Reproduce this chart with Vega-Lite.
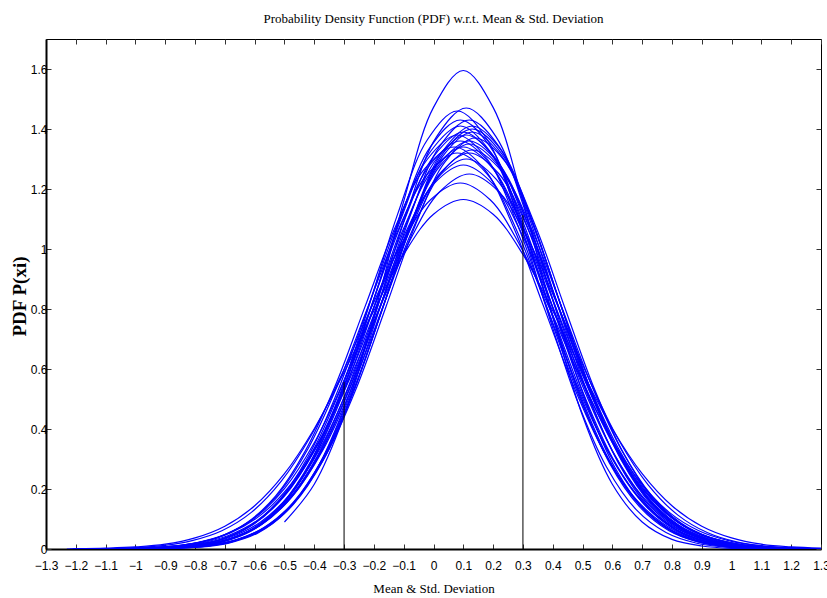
{
 "$schema": "https://vega.github.io/schema/vega-lite/v6.json",
 "autosize": "none",
 "width": 775,
 "height": 510,
 "padding": {"left": 46, "top": 39, "right": 6, "bottom": 49},
 "background": "white",
 "title": {"text": "Probability Density Function (PDF) w.r.t. Mean & Std. Deviation", "font": "Liberation Serif", "fontSize": 13, "fontWeight": "normal", "color": "black", "frame": "group", "anchor": "middle", "baseline": "alphabetic", "offset": 3},
 "config": {
  "view": {"stroke": "black", "strokeWidth": 1},
  "axis": {"grid": false, "labelFont": "Liberation Sans Narrow, Liberation Sans", "labelFontSize": 12, "labelColor": "black", "tickColor": "#333333", "tickSize": -5, "tickWidth": 1, "domainColor": "black", "titleColor": "black"}
 },
 "datasets": {
  "curves": [
   {"c":1,"x":-0.5,"y":0.090},{"c":1,"x":-0.4,"y":0.216},{"c":1,"x":-0.3,"y":0.444},{"c":1,"x":-0.2,"y":0.777},{"c":1,"x":-0.1,"y":1.159},{"c":1,"x":0,"y":1.472},{"c":1,"x":0.1,"y":1.595},{"c":1,"x":0.2,"y":1.472},{"c":1,"x":0.3,"y":1.159},{"c":1,"x":0.4,"y":0.777},{"c":1,"x":0.5,"y":0.444},{"c":1,"x":0.6,"y":0.216},{"c":1,"x":0.7,"y":0.090},{"c":1,"x":0.8,"y":0.032},{"c":1,"x":0.9,"y":0.010},{"c":1,"x":1.0,"y":0.002},{"c":1,"x":1.1,"y":0.001},{"c":1,"x":1.2,"y":0},{"c":1,"x":1.3,"y":0},
   {"c":2,"x":-1.19,"y":0},{"c":2,"x":-1.09,"y":0},{"c":2,"x":-0.99,"y":0},{"c":2,"x":-0.89,"y":0.002},{"c":2,"x":-0.79,"y":0.006},{"c":2,"x":-0.69,"y":0.019},{"c":2,"x":-0.59,"y":0.053},{"c":2,"x":-0.49,"y":0.128},{"c":2,"x":-0.39,"y":0.269},{"c":2,"x":-0.29,"y":0.496},{"c":2,"x":-0.19,"y":0.798},{"c":2,"x":-0.09,"y":1.120},{"c":2,"x":0.01,"y":1.374},{"c":2,"x":0.11,"y":1.47},{"c":2,"x":0.21,"y":1.374},{"c":2,"x":0.31,"y":1.120},{"c":2,"x":0.41,"y":0.798},{"c":2,"x":0.51,"y":0.496},{"c":2,"x":0.61,"y":0.269},{"c":2,"x":0.71,"y":0.128},{"c":2,"x":0.81,"y":0.053},{"c":2,"x":0.91,"y":0.019},{"c":2,"x":1.01,"y":0.006},{"c":2,"x":1.11,"y":0.002},{"c":2,"x":1.21,"y":0},{"c":2,"x":1.31,"y":0},
   {"c":3,"x":-0.52,"y":0.131},{"c":3,"x":-0.42,"y":0.274},{"c":3,"x":-0.32,"y":0.500},{"c":3,"x":-0.22,"y":0.799},{"c":3,"x":-0.12,"y":1.117},{"c":3,"x":-0.02,"y":1.365},{"c":3,"x":0.08,"y":1.46},{"c":3,"x":0.18,"y":1.365},{"c":3,"x":0.28,"y":1.117},{"c":3,"x":0.38,"y":0.799},{"c":3,"x":0.48,"y":0.500},{"c":3,"x":0.58,"y":0.274},{"c":3,"x":0.68,"y":0.131},{"c":3,"x":0.78,"y":0.055},{"c":3,"x":0.88,"y":0.020},{"c":3,"x":0.98,"y":0.006},{"c":3,"x":1.08,"y":0.002},{"c":3,"x":1.18,"y":0},{"c":3,"x":1.28,"y":0},{"c":3,"x":1.38,"y":0},
   {"c":4,"x":-1.18,"y":0},{"c":4,"x":-1.08,"y":0},{"c":4,"x":-0.98,"y":0.001},{"c":4,"x":-0.88,"y":0.002},{"c":4,"x":-0.78,"y":0.008},{"c":4,"x":-0.68,"y":0.023},{"c":4,"x":-0.58,"y":0.061},{"c":4,"x":-0.48,"y":0.142},{"c":4,"x":-0.38,"y":0.287},{"c":4,"x":-0.28,"y":0.512},{"c":4,"x":-0.18,"y":0.802},{"c":4,"x":-0.08,"y":1.106},{"c":4,"x":0.02,"y":1.341},{"c":4,"x":0.12,"y":1.43},{"c":4,"x":0.22,"y":1.341},{"c":4,"x":0.32,"y":1.106},{"c":4,"x":0.42,"y":0.802},{"c":4,"x":0.52,"y":0.512},{"c":4,"x":0.62,"y":0.287},{"c":4,"x":0.72,"y":0.142},{"c":4,"x":0.82,"y":0.061},{"c":4,"x":0.92,"y":0.023},{"c":4,"x":1.02,"y":0.008},{"c":4,"x":1.12,"y":0.002},{"c":4,"x":1.22,"y":0.001},{"c":4,"x":1.32,"y":0},
   {"c":5,"x":-1.21,"y":0},{"c":5,"x":-1.11,"y":0},{"c":5,"x":-1.01,"y":0.001},{"c":5,"x":-0.91,"y":0.003},{"c":5,"x":-0.81,"y":0.009},{"c":5,"x":-0.71,"y":0.026},{"c":5,"x":-0.61,"y":0.066},{"c":5,"x":-0.51,"y":0.149},{"c":5,"x":-0.41,"y":0.296},{"c":5,"x":-0.31,"y":0.519},{"c":5,"x":-0.21,"y":0.804},{"c":5,"x":-0.11,"y":1.098},{"c":5,"x":-0.01,"y":1.325},{"c":5,"x":0.09,"y":1.41},{"c":5,"x":0.19,"y":1.325},{"c":5,"x":0.29,"y":1.098},{"c":5,"x":0.39,"y":0.804},{"c":5,"x":0.49,"y":0.519},{"c":5,"x":0.59,"y":0.296},{"c":5,"x":0.69,"y":0.149},{"c":5,"x":0.79,"y":0.066},{"c":5,"x":0.89,"y":0.026},{"c":5,"x":0.99,"y":0.009},{"c":5,"x":1.09,"y":0.003},{"c":5,"x":1.19,"y":0.001},{"c":5,"x":1.29,"y":0},{"c":5,"x":1.39,"y":0},
   {"c":6,"x":-0.97,"y":0.001},{"c":6,"x":-0.87,"y":0.003},{"c":6,"x":-0.77,"y":0.010},{"c":6,"x":-0.67,"y":0.027},{"c":6,"x":-0.57,"y":0.069},{"c":6,"x":-0.47,"y":0.153},{"c":6,"x":-0.37,"y":0.300},{"c":6,"x":-0.27,"y":0.523},{"c":6,"x":-0.17,"y":0.804},{"c":6,"x":-0.07,"y":1.094},{"c":6,"x":0.03,"y":1.316},{"c":6,"x":0.13,"y":1.40},{"c":6,"x":0.23,"y":1.316},{"c":6,"x":0.33,"y":1.094},{"c":6,"x":0.43,"y":0.804},{"c":6,"x":0.53,"y":0.523},{"c":6,"x":0.63,"y":0.300},{"c":6,"x":0.73,"y":0.153},{"c":6,"x":0.83,"y":0.069},{"c":6,"x":0.93,"y":0.027},{"c":6,"x":1.03,"y":0.010},{"c":6,"x":1.13,"y":0.003},{"c":6,"x":1.23,"y":0.001},{"c":6,"x":1.33,"y":0},
   {"c":7,"x":-1.2,"y":0},{"c":7,"x":-1.1,"y":0},{"c":7,"x":-1.0,"y":0.001},{"c":7,"x":-0.9,"y":0.003},{"c":7,"x":-0.8,"y":0.010},{"c":7,"x":-0.7,"y":0.029},{"c":7,"x":-0.6,"y":0.071},{"c":7,"x":-0.5,"y":0.156},{"c":7,"x":-0.4,"y":0.305},{"c":7,"x":-0.3,"y":0.526},{"c":7,"x":-0.2,"y":0.805},{"c":7,"x":-0.1,"y":1.090},{"c":7,"x":0,"y":1.308},{"c":7,"x":0.1,"y":1.39},{"c":7,"x":0.2,"y":1.308},{"c":7,"x":0.3,"y":1.090},{"c":7,"x":0.4,"y":0.805},{"c":7,"x":0.5,"y":0.526},{"c":7,"x":0.6,"y":0.305},{"c":7,"x":0.7,"y":0.156},{"c":7,"x":0.8,"y":0.071},{"c":7,"x":0.9,"y":0.029},{"c":7,"x":1.0,"y":0.010},{"c":7,"x":1.1,"y":0.003},{"c":7,"x":1.2,"y":0.001},{"c":7,"x":1.3,"y":0},
   {"c":8,"x":-1.19,"y":0},{"c":8,"x":-1.09,"y":0},{"c":8,"x":-0.99,"y":0.001},{"c":8,"x":-0.89,"y":0.003},{"c":8,"x":-0.79,"y":0.011},{"c":8,"x":-0.69,"y":0.030},{"c":8,"x":-0.59,"y":0.074},{"c":8,"x":-0.49,"y":0.160},{"c":8,"x":-0.39,"y":0.309},{"c":8,"x":-0.29,"y":0.530},{"c":8,"x":-0.19,"y":0.805},{"c":8,"x":-0.09,"y":1.086},{"c":8,"x":0.01,"y":1.300},{"c":8,"x":0.11,"y":1.38},{"c":8,"x":0.21,"y":1.300},{"c":8,"x":0.31,"y":1.086},{"c":8,"x":0.41,"y":0.805},{"c":8,"x":0.51,"y":0.530},{"c":8,"x":0.61,"y":0.309},{"c":8,"x":0.71,"y":0.160},{"c":8,"x":0.81,"y":0.074},{"c":8,"x":0.91,"y":0.030},{"c":8,"x":1.01,"y":0.011},{"c":8,"x":1.11,"y":0.003},{"c":8,"x":1.21,"y":0.001},{"c":8,"x":1.31,"y":0},
   {"c":9,"x":-0.96,"y":0.001},{"c":9,"x":-0.86,"y":0.004},{"c":9,"x":-0.76,"y":0.012},{"c":9,"x":-0.66,"y":0.031},{"c":9,"x":-0.56,"y":0.076},{"c":9,"x":-0.46,"y":0.164},{"c":9,"x":-0.36,"y":0.314},{"c":9,"x":-0.26,"y":0.533},{"c":9,"x":-0.16,"y":0.806},{"c":9,"x":-0.06,"y":1.082},{"c":9,"x":0.04,"y":1.292},{"c":9,"x":0.14,"y":1.37},{"c":9,"x":0.24,"y":1.292},{"c":9,"x":0.34,"y":1.082},{"c":9,"x":0.44,"y":0.806},{"c":9,"x":0.54,"y":0.533},{"c":9,"x":0.64,"y":0.314},{"c":9,"x":0.74,"y":0.164},{"c":9,"x":0.84,"y":0.076},{"c":9,"x":0.94,"y":0.031},{"c":9,"x":1.04,"y":0.012},{"c":9,"x":1.14,"y":0.004},{"c":9,"x":1.24,"y":0.001},{"c":9,"x":1.34,"y":0},
   {"c":10,"x":-1.21,"y":0},{"c":10,"x":-1.11,"y":0},{"c":10,"x":-1.01,"y":0.001},{"c":10,"x":-0.91,"y":0.004},{"c":10,"x":-0.81,"y":0.012},{"c":10,"x":-0.71,"y":0.033},{"c":10,"x":-0.61,"y":0.079},{"c":10,"x":-0.51,"y":0.168},{"c":10,"x":-0.41,"y":0.318},{"c":10,"x":-0.31,"y":0.537},{"c":10,"x":-0.21,"y":0.806},{"c":10,"x":-0.11,"y":1.078},{"c":10,"x":-0.01,"y":1.283},{"c":10,"x":0.09,"y":1.36},{"c":10,"x":0.19,"y":1.283},{"c":10,"x":0.29,"y":1.078},{"c":10,"x":0.39,"y":0.806},{"c":10,"x":0.49,"y":0.537},{"c":10,"x":0.59,"y":0.318},{"c":10,"x":0.69,"y":0.168},{"c":10,"x":0.79,"y":0.079},{"c":10,"x":0.89,"y":0.033},{"c":10,"x":0.99,"y":0.012},{"c":10,"x":1.09,"y":0.004},{"c":10,"x":1.19,"y":0.001},{"c":10,"x":1.29,"y":0},{"c":10,"x":1.39,"y":0},
   {"c":11,"x":-1.18,"y":0},{"c":11,"x":-1.08,"y":0},{"c":11,"x":-0.98,"y":0.001},{"c":11,"x":-0.88,"y":0.004},{"c":11,"x":-0.78,"y":0.013},{"c":11,"x":-0.68,"y":0.035},{"c":11,"x":-0.58,"y":0.082},{"c":11,"x":-0.48,"y":0.172},{"c":11,"x":-0.38,"y":0.323},{"c":11,"x":-0.28,"y":0.540},{"c":11,"x":-0.18,"y":0.806},{"c":11,"x":-0.08,"y":1.074},{"c":11,"x":0.02,"y":1.275},{"c":11,"x":0.12,"y":1.35},{"c":11,"x":0.22,"y":1.275},{"c":11,"x":0.32,"y":1.074},{"c":11,"x":0.42,"y":0.806},{"c":11,"x":0.52,"y":0.540},{"c":11,"x":0.62,"y":0.323},{"c":11,"x":0.72,"y":0.172},{"c":11,"x":0.82,"y":0.082},{"c":11,"x":0.92,"y":0.035},{"c":11,"x":1.02,"y":0.013},{"c":11,"x":1.12,"y":0.004},{"c":11,"x":1.22,"y":0.001},{"c":11,"x":1.32,"y":0},
   {"c":12,"x":-0.9,"y":0.005},{"c":12,"x":-0.8,"y":0.014},{"c":12,"x":-0.7,"y":0.036},{"c":12,"x":-0.6,"y":0.085},{"c":12,"x":-0.5,"y":0.176},{"c":12,"x":-0.4,"y":0.327},{"c":12,"x":-0.3,"y":0.543},{"c":12,"x":-0.2,"y":0.807},{"c":12,"x":-0.1,"y":1.069},{"c":12,"x":0,"y":1.267},{"c":12,"x":0.1,"y":1.34},{"c":12,"x":0.2,"y":1.267},{"c":12,"x":0.3,"y":1.069},{"c":12,"x":0.4,"y":0.807},{"c":12,"x":0.5,"y":0.543},{"c":12,"x":0.6,"y":0.327},{"c":12,"x":0.7,"y":0.176},{"c":12,"x":0.8,"y":0.085},{"c":12,"x":0.9,"y":0.036},{"c":12,"x":1.0,"y":0.014},{"c":12,"x":1.1,"y":0.005},{"c":12,"x":1.2,"y":0.001},{"c":12,"x":1.3,"y":0},
   {"c":13,"x":-1.17,"y":0},{"c":13,"x":-1.07,"y":0},{"c":13,"x":-0.97,"y":0.002},{"c":13,"x":-0.87,"y":0.005},{"c":13,"x":-0.77,"y":0.015},{"c":13,"x":-0.67,"y":0.038},{"c":13,"x":-0.57,"y":0.087},{"c":13,"x":-0.47,"y":0.180},{"c":13,"x":-0.37,"y":0.332},{"c":13,"x":-0.27,"y":0.547},{"c":13,"x":-0.17,"y":0.807},{"c":13,"x":-0.07,"y":1.065},{"c":13,"x":0.03,"y":1.258},{"c":13,"x":0.13,"y":1.33},{"c":13,"x":0.23,"y":1.258},{"c":13,"x":0.33,"y":1.065},{"c":13,"x":0.43,"y":0.807},{"c":13,"x":0.53,"y":0.547},{"c":13,"x":0.63,"y":0.332},{"c":13,"x":0.73,"y":0.180},{"c":13,"x":0.83,"y":0.087},{"c":13,"x":0.93,"y":0.038},{"c":13,"x":1.03,"y":0.015},{"c":13,"x":1.13,"y":0.005},{"c":13,"x":1.23,"y":0.002},{"c":13,"x":1.33,"y":0},
   {"c":14,"x":-1.22,"y":0},{"c":14,"x":-1.12,"y":0},{"c":14,"x":-1.02,"y":0.002},{"c":14,"x":-0.92,"y":0.006},{"c":14,"x":-0.82,"y":0.016},{"c":14,"x":-0.72,"y":0.040},{"c":14,"x":-0.62,"y":0.090},{"c":14,"x":-0.52,"y":0.184},{"c":14,"x":-0.42,"y":0.336},{"c":14,"x":-0.32,"y":0.550},{"c":14,"x":-0.22,"y":0.807},{"c":14,"x":-0.12,"y":1.060},{"c":14,"x":-0.02,"y":1.250},{"c":14,"x":0.08,"y":1.32},{"c":14,"x":0.18,"y":1.250},{"c":14,"x":0.28,"y":1.060},{"c":14,"x":0.38,"y":0.807},{"c":14,"x":0.48,"y":0.550},{"c":14,"x":0.58,"y":0.336},{"c":14,"x":0.68,"y":0.184},{"c":14,"x":0.78,"y":0.090},{"c":14,"x":0.88,"y":0.040},{"c":14,"x":0.98,"y":0.016},{"c":14,"x":1.08,"y":0.006},{"c":14,"x":1.18,"y":0.002},{"c":14,"x":1.28,"y":0},{"c":14,"x":1.38,"y":0},
   {"c":15,"x":-1.19,"y":0},{"c":15,"x":-1.09,"y":0.001},{"c":15,"x":-0.99,"y":0.002},{"c":15,"x":-0.89,"y":0.006},{"c":15,"x":-0.79,"y":0.018},{"c":15,"x":-0.69,"y":0.044},{"c":15,"x":-0.59,"y":0.096},{"c":15,"x":-0.49,"y":0.192},{"c":15,"x":-0.39,"y":0.345},{"c":15,"x":-0.29,"y":0.556},{"c":15,"x":-0.19,"y":0.806},{"c":15,"x":-0.09,"y":1.051},{"c":15,"x":0.01,"y":1.233},{"c":15,"x":0.11,"y":1.30},{"c":15,"x":0.21,"y":1.233},{"c":15,"x":0.31,"y":1.051},{"c":15,"x":0.41,"y":0.806},{"c":15,"x":0.51,"y":0.556},{"c":15,"x":0.61,"y":0.345},{"c":15,"x":0.71,"y":0.192},{"c":15,"x":0.81,"y":0.096},{"c":15,"x":0.91,"y":0.044},{"c":15,"x":1.01,"y":0.018},{"c":15,"x":1.11,"y":0.006},{"c":15,"x":1.21,"y":0.002},{"c":15,"x":1.31,"y":0.001},
   {"c":16,"x":-1.2,"y":0},{"c":16,"x":-1.1,"y":0.001},{"c":16,"x":-1.0,"y":0.003},{"c":16,"x":-0.9,"y":0.007},{"c":16,"x":-0.8,"y":0.020},{"c":16,"x":-0.7,"y":0.048},{"c":16,"x":-0.6,"y":0.103},{"c":16,"x":-0.5,"y":0.201},{"c":16,"x":-0.4,"y":0.354},{"c":16,"x":-0.3,"y":0.562},{"c":16,"x":-0.2,"y":0.805},{"c":16,"x":-0.1,"y":1.042},{"c":16,"x":0,"y":1.216},{"c":16,"x":0.1,"y":1.28},{"c":16,"x":0.2,"y":1.216},{"c":16,"x":0.3,"y":1.042},{"c":16,"x":0.4,"y":0.805},{"c":16,"x":0.5,"y":0.562},{"c":16,"x":0.6,"y":0.354},{"c":16,"x":0.7,"y":0.201},{"c":16,"x":0.8,"y":0.103},{"c":16,"x":0.9,"y":0.048},{"c":16,"x":1.0,"y":0.020},{"c":16,"x":1.1,"y":0.007},{"c":16,"x":1.2,"y":0.003},{"c":16,"x":1.3,"y":0.001},
   {"c":17,"x":-1.18,"y":0},{"c":17,"x":-1.08,"y":0.001},{"c":17,"x":-0.98,"y":0.003},{"c":17,"x":-0.88,"y":0.009},{"c":17,"x":-0.78,"y":0.023},{"c":17,"x":-0.68,"y":0.054},{"c":17,"x":-0.58,"y":0.113},{"c":17,"x":-0.48,"y":0.214},{"c":17,"x":-0.38,"y":0.366},{"c":17,"x":-0.28,"y":0.570},{"c":17,"x":-0.18,"y":0.804},{"c":17,"x":-0.08,"y":1.027},{"c":17,"x":0.02,"y":1.190},{"c":17,"x":0.12,"y":1.25},{"c":17,"x":0.22,"y":1.190},{"c":17,"x":0.32,"y":1.027},{"c":17,"x":0.42,"y":0.804},{"c":17,"x":0.52,"y":0.570},{"c":17,"x":0.62,"y":0.366},{"c":17,"x":0.72,"y":0.214},{"c":17,"x":0.82,"y":0.113},{"c":17,"x":0.92,"y":0.054},{"c":17,"x":1.02,"y":0.023},{"c":17,"x":1.12,"y":0.009},{"c":17,"x":1.22,"y":0.003},{"c":17,"x":1.32,"y":0.001},
   {"c":18,"x":-1.21,"y":0},{"c":18,"x":-1.11,"y":0.001},{"c":18,"x":-1.01,"y":0.004},{"c":18,"x":-0.91,"y":0.011},{"c":18,"x":-0.81,"y":0.028},{"c":18,"x":-0.71,"y":0.061},{"c":18,"x":-0.61,"y":0.123},{"c":18,"x":-0.51,"y":0.227},{"c":18,"x":-0.41,"y":0.379},{"c":18,"x":-0.31,"y":0.577},{"c":18,"x":-0.21,"y":0.801},{"c":18,"x":-0.11,"y":1.012},{"c":18,"x":-0.01,"y":1.164},{"c":18,"x":0.09,"y":1.22},{"c":18,"x":0.19,"y":1.164},{"c":18,"x":0.29,"y":1.012},{"c":18,"x":0.39,"y":0.801},{"c":18,"x":0.49,"y":0.577},{"c":18,"x":0.59,"y":0.379},{"c":18,"x":0.69,"y":0.227},{"c":18,"x":0.79,"y":0.123},{"c":18,"x":0.89,"y":0.061},{"c":18,"x":0.99,"y":0.028},{"c":18,"x":1.09,"y":0.011},{"c":18,"x":1.19,"y":0.004},{"c":18,"x":1.29,"y":0.001},{"c":18,"x":1.39,"y":0},
   {"c":19,"x":-1.2,"y":0.001},{"c":19,"x":-1.1,"y":0.003},{"c":19,"x":-1.0,"y":0.007},{"c":19,"x":-0.9,"y":0.016},{"c":19,"x":-0.8,"y":0.037},{"c":19,"x":-0.7,"y":0.076},{"c":19,"x":-0.6,"y":0.144},{"c":19,"x":-0.5,"y":0.251},{"c":19,"x":-0.4,"y":0.401},{"c":19,"x":-0.3,"y":0.589},{"c":19,"x":-0.2,"y":0.794},{"c":19,"x":-0.1,"y":0.982},{"c":19,"x":0,"y":1.116},{"c":19,"x":0.1,"y":1.165},{"c":19,"x":0.2,"y":1.116},{"c":19,"x":0.3,"y":0.982},{"c":19,"x":0.4,"y":0.794},{"c":19,"x":0.5,"y":0.589},{"c":19,"x":0.6,"y":0.401},{"c":19,"x":0.7,"y":0.251},{"c":19,"x":0.8,"y":0.144},{"c":19,"x":0.9,"y":0.076},{"c":19,"x":1.0,"y":0.037},{"c":19,"x":1.1,"y":0.016},{"c":19,"x":1.2,"y":0.007},{"c":19,"x":1.3,"y":0.003},
   {"c":20,"x":-1.07,"y":0},{"c":20,"x":-0.97,"y":0.001},{"c":20,"x":-0.87,"y":0.003},{"c":20,"x":-0.77,"y":0.010},{"c":20,"x":-0.67,"y":0.029},{"c":20,"x":-0.57,"y":0.071},{"c":20,"x":-0.47,"y":0.156},{"c":20,"x":-0.37,"y":0.305},{"c":20,"x":-0.27,"y":0.526},{"c":20,"x":-0.17,"y":0.805},{"c":20,"x":-0.07,"y":1.090},{"c":20,"x":0.03,"y":1.308},{"c":20,"x":0.13,"y":1.39},{"c":20,"x":0.23,"y":1.308},{"c":20,"x":0.33,"y":1.090},{"c":20,"x":0.43,"y":0.805},{"c":20,"x":0.53,"y":0.526},{"c":20,"x":0.63,"y":0.305},{"c":20,"x":0.73,"y":0.156},{"c":20,"x":0.83,"y":0.071},{"c":20,"x":0.93,"y":0.029},{"c":20,"x":1.03,"y":0.010},{"c":20,"x":1.13,"y":0.003},{"c":20,"x":1.23,"y":0.001},{"c":20,"x":1.33,"y":0},
   {"c":21,"x":-1.18,"y":0},{"c":21,"x":-1.08,"y":0},{"c":21,"x":-0.98,"y":0.001},{"c":21,"x":-0.88,"y":0.004},{"c":21,"x":-0.78,"y":0.012},{"c":21,"x":-0.68,"y":0.033},{"c":21,"x":-0.58,"y":0.079},{"c":21,"x":-0.48,"y":0.168},{"c":21,"x":-0.38,"y":0.318},{"c":21,"x":-0.28,"y":0.537},{"c":21,"x":-0.18,"y":0.806},{"c":21,"x":-0.08,"y":1.078},{"c":21,"x":0.02,"y":1.283},{"c":21,"x":0.12,"y":1.36},{"c":21,"x":0.22,"y":1.283},{"c":21,"x":0.32,"y":1.078},{"c":21,"x":0.42,"y":0.806},{"c":21,"x":0.52,"y":0.537},{"c":21,"x":0.62,"y":0.318},{"c":21,"x":0.72,"y":0.168},{"c":21,"x":0.82,"y":0.079},{"c":21,"x":0.92,"y":0.033},{"c":21,"x":1.02,"y":0.012},{"c":21,"x":1.12,"y":0.004},{"c":21,"x":1.22,"y":0.001},{"c":21,"x":1.32,"y":0},
   {"c":22,"x":-1.17,"y":0},{"c":22,"x":-1.07,"y":0},{"c":22,"x":-0.97,"y":0.001},{"c":22,"x":-0.87,"y":0.003},{"c":22,"x":-0.77,"y":0.009},{"c":22,"x":-0.67,"y":0.026},{"c":22,"x":-0.57,"y":0.066},{"c":22,"x":-0.47,"y":0.149},{"c":22,"x":-0.37,"y":0.296},{"c":22,"x":-0.27,"y":0.519},{"c":22,"x":-0.17,"y":0.804},{"c":22,"x":-0.07,"y":1.098},{"c":22,"x":0.03,"y":1.325},{"c":22,"x":0.13,"y":1.41},{"c":22,"x":0.23,"y":1.325},{"c":22,"x":0.33,"y":1.098},{"c":22,"x":0.43,"y":0.804},{"c":22,"x":0.53,"y":0.519},{"c":22,"x":0.63,"y":0.296},{"c":22,"x":0.73,"y":0.149},{"c":22,"x":0.83,"y":0.066},{"c":22,"x":0.93,"y":0.026},{"c":22,"x":1.03,"y":0.009},{"c":22,"x":1.13,"y":0.003},{"c":22,"x":1.23,"y":0.001},{"c":22,"x":1.33,"y":0},
   {"c":23,"x":-1.23,"y":0},{"c":23,"x":-1.13,"y":0},{"c":23,"x":-1.03,"y":0.001},{"c":23,"x":-0.93,"y":0.005},{"c":23,"x":-0.83,"y":0.014},{"c":23,"x":-0.73,"y":0.036},{"c":23,"x":-0.63,"y":0.085},{"c":23,"x":-0.53,"y":0.176},{"c":23,"x":-0.43,"y":0.327},{"c":23,"x":-0.33,"y":0.543},{"c":23,"x":-0.23,"y":0.807},{"c":23,"x":-0.13,"y":1.069},{"c":23,"x":-0.03,"y":1.267},{"c":23,"x":0.07,"y":1.34},{"c":23,"x":0.17,"y":1.267},{"c":23,"x":0.27,"y":1.069},{"c":23,"x":0.37,"y":0.807},{"c":23,"x":0.47,"y":0.543},{"c":23,"x":0.57,"y":0.327},{"c":23,"x":0.67,"y":0.176},{"c":23,"x":0.77,"y":0.085},{"c":23,"x":0.87,"y":0.036},{"c":23,"x":0.97,"y":0.014},{"c":23,"x":1.07,"y":0.005},{"c":23,"x":1.17,"y":0.001},{"c":23,"x":1.27,"y":0},{"c":23,"x":1.37,"y":0},
   {"c":24,"x":-0.92,"y":0.003},{"c":24,"x":-0.82,"y":0.011},{"c":24,"x":-0.72,"y":0.030},{"c":24,"x":-0.62,"y":0.074},{"c":24,"x":-0.52,"y":0.160},{"c":24,"x":-0.42,"y":0.309},{"c":24,"x":-0.32,"y":0.530},{"c":24,"x":-0.22,"y":0.805},{"c":24,"x":-0.12,"y":1.086},{"c":24,"x":-0.02,"y":1.300},{"c":24,"x":0.08,"y":1.38},{"c":24,"x":0.18,"y":1.300},{"c":24,"x":0.28,"y":1.086},{"c":24,"x":0.38,"y":0.805},{"c":24,"x":0.48,"y":0.530},{"c":24,"x":0.58,"y":0.309},{"c":24,"x":0.68,"y":0.160},{"c":24,"x":0.78,"y":0.074},{"c":24,"x":0.88,"y":0.030},{"c":24,"x":0.98,"y":0.011},{"c":24,"x":1.08,"y":0.003},{"c":24,"x":1.18,"y":0.001},{"c":24,"x":1.28,"y":0},{"c":24,"x":1.38,"y":0},
   {"c":25,"x":-1.18,"y":0},{"c":25,"x":-1.08,"y":0},{"c":25,"x":-0.98,"y":0.002},{"c":25,"x":-0.88,"y":0.006},{"c":25,"x":-0.78,"y":0.016},{"c":25,"x":-0.68,"y":0.040},{"c":25,"x":-0.58,"y":0.090},{"c":25,"x":-0.48,"y":0.184},{"c":25,"x":-0.38,"y":0.336},{"c":25,"x":-0.28,"y":0.550},{"c":25,"x":-0.18,"y":0.807},{"c":25,"x":-0.08,"y":1.060},{"c":25,"x":0.02,"y":1.250},{"c":25,"x":0.12,"y":1.32},{"c":25,"x":0.22,"y":1.250},{"c":25,"x":0.32,"y":1.060},{"c":25,"x":0.42,"y":0.807},{"c":25,"x":0.52,"y":0.550},{"c":25,"x":0.62,"y":0.336},{"c":25,"x":0.72,"y":0.184},{"c":25,"x":0.82,"y":0.090},{"c":25,"x":0.92,"y":0.040},{"c":25,"x":1.02,"y":0.016},{"c":25,"x":1.12,"y":0.006},{"c":25,"x":1.22,"y":0.002},{"c":25,"x":1.32,"y":0},
   {"c":26,"x":-1.21,"y":0},{"c":26,"x":-1.11,"y":0},{"c":26,"x":-1.01,"y":0.001},{"c":26,"x":-0.91,"y":0.002},{"c":26,"x":-0.81,"y":0.008},{"c":26,"x":-0.71,"y":0.023},{"c":26,"x":-0.61,"y":0.061},{"c":26,"x":-0.51,"y":0.142},{"c":26,"x":-0.41,"y":0.287},{"c":26,"x":-0.31,"y":0.512},{"c":26,"x":-0.21,"y":0.802},{"c":26,"x":-0.11,"y":1.106},{"c":26,"x":-0.01,"y":1.341},{"c":26,"x":0.09,"y":1.43},{"c":26,"x":0.19,"y":1.341},{"c":26,"x":0.29,"y":1.106},{"c":26,"x":0.39,"y":0.802},{"c":26,"x":0.49,"y":0.512},{"c":26,"x":0.59,"y":0.287},{"c":26,"x":0.69,"y":0.142},{"c":26,"x":0.79,"y":0.061},{"c":26,"x":0.89,"y":0.023},{"c":26,"x":0.99,"y":0.008},{"c":26,"x":1.09,"y":0.002},{"c":26,"x":1.19,"y":0.001},{"c":26,"x":1.29,"y":0},{"c":26,"x":1.39,"y":0}
  ],
  "rules": [
   {"x": -0.3, "y": 0, "y2": 0.557},
   {"x": 0.3, "y": 0, "y2": 1.113}
  ]
 },
 "layer": [
  {
   "data": {"name": "curves"},
   "mark": {"type": "line", "color": "#0000ff", "strokeWidth": 1.2, "interpolate": "catmull-rom", "clip": true},
   "encoding": {
    "x": {"field": "x", "type": "quantitative", "scale": {"domain": [-1.3, 1.3], "nice": false, "zero": false},
     "axis": {"orient": "bottom", "values": [-1.3,-1.2,-1.1,-1,-0.9,-0.8,-0.7,-0.6,-0.5,-0.4,-0.3,-0.2,-0.1,0,0.1,0.2,0.3,0.4,0.5,0.6,0.7,0.8,0.9,1,1.1,1.2,1.3], "format": "~g", "labelPadding": 16, "domainWidth": 2, "labelFlush": false, "title": "Mean & Std. Deviation", "titleFont": "Liberation Serif", "titleFontSize": 13, "titleFontWeight": "normal", "titleBaseline": "alphabetic", "titleY": 43}},
    "y": {"field": "y", "type": "quantitative", "scale": {"domain": [0, 1.7], "nice": false, "zero": true},
     "axis": {"orient": "left", "values": [0,0.2,0.4,0.6,0.8,1,1.2,1.4,1.6], "format": "~g", "labelPadding": 4, "domainWidth": 2, "labelFlush": false, "title": "PDF P(xi)", "titleFont": "Liberation Serif", "titleFontSize": 19, "titleFontWeight": "bold", "titleBaseline": "alphabetic", "titleX": -21, "titleY": 257}},
    "detail": {"field": "c", "type": "nominal"}
   }
  },
  {
   "data": {"name": "rules"},
   "mark": {"type": "rule", "color": "black", "strokeWidth": 1},
   "encoding": {
    "x": {"field": "x", "type": "quantitative", "axis": {"orient": "top", "values": [-1.3,-1.2,-1.1,-1,-0.9,-0.8,-0.7,-0.6,-0.5,-0.4,-0.3,-0.2,-0.1,0,0.1,0.2,0.3,0.4,0.5,0.6,0.7,0.8,0.9,1,1.1,1.2,1.3], "labels": false, "domain": false, "title": null}},
    "y": {"field": "y", "type": "quantitative", "axis": {"orient": "right", "values": [0,0.2,0.4,0.6,0.8,1,1.2,1.4,1.6], "labels": false, "domain": false, "title": null}},
    "y2": {"field": "y2"}
   }
  }
 ],
 "resolve": {"axis": {"x": "independent", "y": "independent"}}
}
